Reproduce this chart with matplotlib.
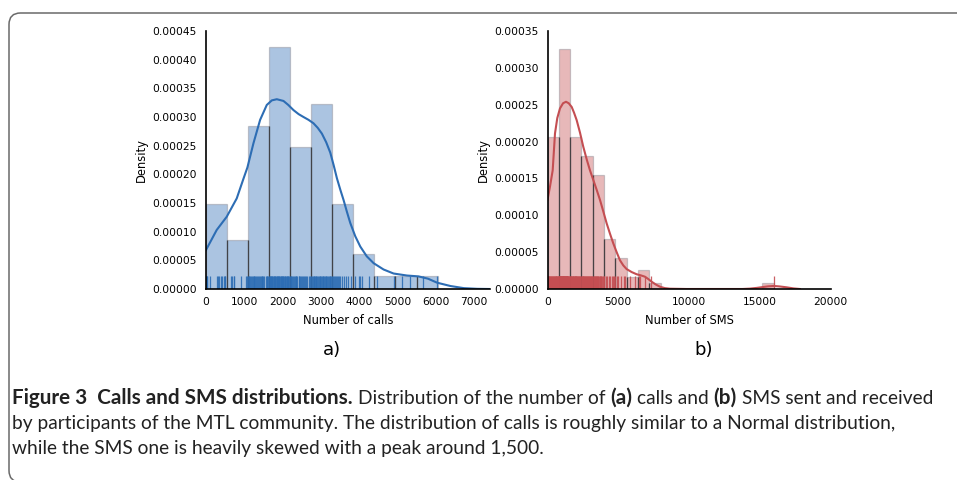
import matplotlib
matplotlib.use("Agg")
import matplotlib.pyplot as plt
from matplotlib.patches import FancyBboxPatch
from matplotlib import font_manager as fm
from matplotlib.colors import to_rgba

# ---------------- data ----------------
calls_bin_edges = [0, 550, 1100, 1650, 2200, 2750, 3300, 3850, 4400, 4950, 5500, 6050]
calls_density = [0.000148, 0.0000855, 0.000285, 0.000422, 0.000248, 0.000322,
                 0.000148, 0.0000605, 0.0000233, 0.0000233, 0.0000233]
calls_rug = [0, 8, 18, 30, 105, 295, 310, 338, 395, 420, 470, 488, 505,
             655, 672, 728, 735, 916, 1055, 1080,
             1102, 1118, 1135, 1160, 1172, 1195, 1230, 1248, 1262, 1290, 1318, 1335,
             1352, 1380, 1410, 1425, 1458, 1475, 1502, 1528, 1555, 1582, 1605, 1630,
             1652, 1668, 1675, 1692, 1710, 1718, 1735, 1752, 1771, 1780, 1798, 1812,
             1825, 1843, 1858, 1870, 1885, 1903, 1915, 1932, 1950, 1962, 1978, 1995,
             2008, 2022, 2040, 2058, 2071, 2088, 2105, 2120, 2138, 2155, 2172, 2190,
             2210, 2232, 2255, 2270, 2298, 2320, 2345, 2362, 2390, 2418, 2440, 2465,
             2490, 2512, 2538, 2560, 2590, 2618, 2650, 2688, 2725,
             2755, 2772, 2790, 2812, 2830, 2851, 2870, 2885, 2905, 2928, 2945, 2968,
             2990, 3005, 3028, 3046, 3065, 3088, 3105, 3126, 3148, 3165, 3190, 3210,
             3232, 3250, 3272, 3292,
             3315, 3340, 3372, 3398, 3420, 3452, 3478, 3505, 3553, 3613, 3660, 3712, 3790,
             3905, 3985, 4031, 4076, 4255,
             4476, 4900, 5123, 5340, 5680, 6047]
calls_kde_x = [0, 280, 541, 803, 977, 1082, 1239, 1414, 1588, 1720, 1850, 2024, 2150,
               2286, 2420, 2547, 2680, 2809, 2920, 3028, 3140, 3246, 3335, 3421, 3510,
               3595, 3680, 3770, 3900, 4031, 4200, 4380, 4640, 4901, 5250, 5550, 5800,
               6038, 6387, 6736, 7086, 7400]
calls_kde_y = [6.8e-5, 1.03e-4, 1.26e-4, 1.58e-4, 1.92e-4, 2.12e-4, 2.54e-4, 2.95e-4,
               3.21e-4, 3.29e-4, 3.31e-4, 3.28e-4, 3.21e-4, 3.12e-4, 3.05e-4, 3.00e-4,
               2.95e-4, 2.89e-4, 2.81e-4, 2.71e-4, 2.56e-4, 2.38e-4, 2.16e-4, 1.93e-4,
               1.73e-4, 1.55e-4, 1.35e-4, 1.15e-4, 9.2e-5, 7.4e-5, 5.7e-5, 4.5e-5,
               3.4e-5, 2.7e-5, 2.35e-5, 2.2e-5, 1.8e-5, 1.1e-5, 5.2e-6, 1.5e-6, 3e-7, 0]

sms_bin_edges = [0, 800, 1600, 2400, 3200, 4000, 4800, 5600, 6400, 7200, 8000, 8800,
                 9600, 10400, 11200, 12000, 12800, 13600, 14400, 15200, 16000]
sms_density = [0.000206, 0.000326, 0.000206, 0.000180, 0.000154, 0.0000674, 0.0000416,
               0.0000167, 0.0000258, 0.0000077, 0, 0, 0, 0, 0, 0, 0, 0, 0, 0.0000081]
sms_rug = [3, 22, 45, 68, 98, 126, 170, 188, 236, 255, 297, 328, 365, 402, 437, 460, 508,
           526, 567, 598, 634, 662, 705, 724, 766, 788,
           805, 820, 838, 851, 872, 885, 903, 918, 934, 952, 966, 985, 998, 1015, 1032,
           1047, 1066, 1080, 1096, 1113, 1128, 1147, 1162, 1178, 1194, 1212, 1226, 1243,
           1260, 1277, 1292, 1310, 1325, 1344, 1360, 1376, 1394, 1410, 1428, 1445, 1478,
           1512, 1548, 1585,
           1612, 1640, 1668, 1690, 1722, 1745, 1773, 1801, 1826, 1858, 1880, 1912, 1938,
           1965, 1992, 2020, 2048, 2075, 2102, 2135, 2160, 2195, 2230, 2270, 2318, 2365,
           2415, 2450, 2482, 2510, 2545, 2580, 2612, 2645, 2680, 2712, 2748, 2780, 2815,
           2850, 2885, 2918, 2950, 2985, 3020, 3055, 3090, 3130, 3175,
           3220, 3262, 3300, 3342, 3385, 3414, 3440, 3485, 3520, 3560, 3600, 3642, 3680,
           3720, 3765, 3810, 3860, 3910, 3965,
           4010, 4105, 4200, 4330, 4410, 4540, 4620, 4700, 4770,
           4880, 5020, 5230, 5380, 5510, 5830, 6200, 6450, 6550, 6880, 7300, 15990]
sms_kde_x = [0, 177, 367, 530, 693, 883, 1100, 1307, 1500, 1710, 1880, 2064, 2300, 2530,
             2770, 3004, 3237, 3470, 3710, 3950, 4184, 4420, 4650, 4890, 5124, 5360, 5597,
             5950, 6304, 6600, 6890, 7130, 7364, 7650, 7951, 8300, 8657, 9837, 13800,
             14311, 14800, 15251, 15600, 16007, 16400, 16904, 17400, 17845]
sms_kde_y = [1.21e-4, 1.39e-4, 1.61e-4, 2.11e-4, 2.32e-4, 2.45e-4, 2.52e-4, 2.54e-4,
             2.52e-4, 2.47e-4, 2.39e-4, 2.29e-4, 2.12e-4, 1.93e-4, 1.76e-4, 1.61e-4,
             1.48e-4, 1.35e-4, 1.21e-4, 1.05e-4, 8.9e-5, 7.5e-5, 6.2e-5, 5.0e-5, 3.9e-5,
             3.2e-5, 2.7e-5, 2.3e-5, 2.0e-5, 1.85e-5, 1.67e-5, 1.35e-5, 9.9e-6, 6.2e-6,
             3.1e-6, 1.2e-6, 4e-7, 0, 0, 5e-7, 1.5e-6, 2.7e-6, 3.6e-6, 4.1e-6, 3.5e-6,
             2.3e-6, 8e-7, 0]

calls_xticks = [0, 1000, 2000, 3000, 4000, 5000, 6000, 7000]
calls_yticks = [0, 0.00005, 0.00010, 0.00015, 0.00020, 0.00025, 0.00030, 0.00035, 0.00040, 0.00045]
sms_xticks = [0, 5000, 10000, 15000, 20000]
sms_yticks = [0, 0.00005, 0.00010, 0.00015, 0.00020, 0.00025, 0.00030, 0.00035]

BLUE = '#2d6db4'
RED = '#c44e52'

W, H = 957, 480
plt.rcParams['font.family'] = ['DejaVu Sans']
fig = plt.figure(figsize=(W / 100, H / 100), dpi=100)


def px_axes(x0, x1, ytop, ybot):
    return fig.add_axes([x0 / W, 1 - ybot / H, (x1 - x0) / W, (ybot - ytop) / H])


def panel(ax, edges, dens, rug, kx, ky, color, xlim, ylim, xt, yt, xlabel):
    for i, h in enumerate(dens):
        if h <= 0:
            continue
        ax.bar(edges[i], h, width=edges[i + 1] - edges[i], align='edge',
               facecolor=to_rgba(color, 0.4), edgecolor=(0.55, 0.55, 0.58, 0.45),
               linewidth=0.9, zorder=2)
    # shared bar boundaries (overlapping edges appear dark)
    for i in range(1, len(dens)):
        hshared = min(dens[i - 1], dens[i])
        if hshared > 0:
            ax.vlines(edges[i], 0, hshared, color=(0.15, 0.15, 0.15, 0.75),
                      linewidth=0.9, zorder=2.5)
    ax.vlines(rug, 0, 0.05, transform=ax.get_xaxis_transform(), color=color,
              linewidth=0.9, alpha=0.9, zorder=3)
    ax.plot(kx, ky, color=color, linewidth=1.5, zorder=4, clip_on=True)
    ax.set_xlim(*xlim)
    ax.set_ylim(*ylim)
    ax.set_xticks(xt)
    ax.set_xticklabels([str(v) for v in xt])
    ax.set_yticks(yt)
    ax.set_yticklabels(['%.5f' % v for v in yt])
    ax.tick_params(length=0, labelsize=7.7, pad=5.5)
    ax.tick_params(axis='y', pad=6.5)
    for s in ('top', 'right'):
        ax.spines[s].set_visible(False)
    for s in ('left', 'bottom'):
        ax.spines[s].set_linewidth(1.2)
        ax.spines[s].set_color('black')
        ax.spines[s].set_zorder(5)
    ax.set_xlabel(xlabel, fontsize=8.3)
    ax.set_ylabel('Density', fontsize=8.3)
    ax.xaxis.set_label_coords(0.5, -0.095)


ax1 = px_axes(206, 490, 31, 289)
panel(ax1, calls_bin_edges, calls_density, calls_rug, calls_kde_x, calls_kde_y, BLUE,
      (0, 7420), (0, 0.00045), calls_xticks, calls_yticks, 'Number of calls')
ax1.yaxis.set_label_coords(-0.205, 0.5)

ax2 = px_axes(547.5, 831, 31, 289)
panel(ax2, sms_bin_edges, sms_density, sms_rug, sms_kde_x, sms_kde_y, RED,
      (0, 20050), (0, 0.00035), sms_xticks, sms_yticks, 'Number of SMS')
ax2.yaxis.set_label_coords(-0.205, 0.5)

fig.text(332 / W, 1 - 350 / H, 'a)', fontsize=13, ha='center', va='center')
fig.text(704 / W, 1 - 350 / H, 'b)', fontsize=13, ha='center', va='center')

# border
border = FancyBboxPatch((9 / W, 1 - 482 / H), (1000 - 9) / W, (482 - 13) / H,
                        boxstyle='round,pad=0,rounding_size=0.012',
                        transform=fig.transFigure, facecolor='none',
                        edgecolor='#6a6a6a', linewidth=1.1, clip_on=False,
                        mutation_aspect=W / H)
fig.patches.append(border)


# caption
def pick_font(names):
    for n in names:
        try:
            fm.findfont(fm.FontProperties(family=n), fallback_to_default=False)
            return n
        except Exception:
            pass
    return 'DejaVu Sans'


cap_font = pick_font(['Liberation Sans Narrow', 'Lato', 'Open Sans', 'Noto Sans'])
renderer = fig.canvas.get_renderer()


def tw(s, size, weight):
    t = fig.text(0, 0, s, fontsize=size, family=cap_font, fontweight=weight)
    w = t.get_window_extent(renderer).width
    t.remove()
    return w


lines = [
    [("Figure 3  Calls and SMS distributions.", 'bold'), ("Distribution of the number of", 'normal'),
     ("(a)", 'bold'), ("calls and", 'normal'), ("(b)", 'bold'), ("SMS sent and received", 'normal')],
    [("by participants of the MTL community. The distribution of calls is roughly similar to a Normal distribution,", 'normal')],
    [("while the SMS one is heavily skewed with a peak around 1,500.", 'normal')],
]

# regular size fitted to the second line's width, bold to the title's width
reg_size = 10 * 886 / tw(lines[1][0][0], 10, 'normal')
bold_size = reg_size * 338 / tw(lines[0][0][0], reg_size, 'bold')
bold_size = max(reg_size, min(bold_size, reg_size * 1.08))
sp = tw('a a', reg_size, 'normal') - tw('aa', reg_size, 'normal')

baselines = [404, 429, 454]
for pieces, yb in zip(lines, baselines):
    x = 12
    for s, wgt in pieces:
        size = bold_size if wgt == 'bold' else reg_size
        fig.text(x / W, 1 - yb / H, s, fontsize=size, family=cap_font,
                 fontweight=wgt, va='baseline', ha='left', color='#222222')
        x += tw(s, size, wgt) + sp

fig.savefig('out.png', dpi=100)
